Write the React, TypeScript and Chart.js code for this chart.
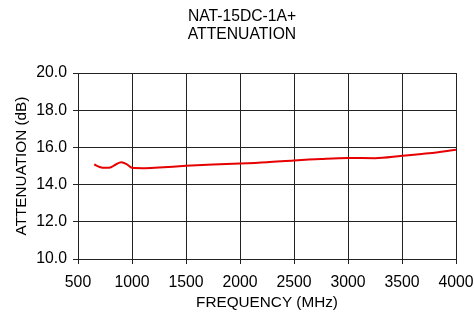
import React, { useEffect, useRef } from "react";
import { Chart, registerables } from "chart.js";

Chart.register(...registerables);

const titleLines = ["NAT-15DC-1A+", "ATTENUATION"];
const xTitle = "FREQUENCY (MHz)";
const yTitle = "ATTENUATION (dB)";
const frequencies = [650, 700, 750, 800, 850, 900, 950, 1000, 1100, 1250, 1500, 1750, 2000, 2250, 2500, 2750, 3000, 3250, 3500, 3750, 4000];
const attenuation = [15.08, 14.95, 14.9, 14.92, 15.08, 15.2, 15.1, 14.9, 14.88, 14.92, 15.01, 15.08, 15.13, 15.2, 15.3, 15.38, 15.43, 15.42, 15.55, 15.68, 15.88];
const xMin = 500;
const xMax = 4000;
const xStep = 500;
const yMin = 10;
const yMax = 20;
const yStep = 2;

const FONT = "'Liberation Sans', Arial, sans-serif";

const titlePlugin = {
  id: "offsetTitle",
  afterDraw(chart: any) {
    const ctx = chart.ctx;
    ctx.save();
    ctx.fillStyle = "#000";
    ctx.font = `15.7px ${FONT}`;
    ctx.textAlign = "center";
    ctx.textBaseline = "middle";
    titleLines.forEach((t, i) => ctx.fillText(t, 242, 17 + i * 17.6));
    ctx.restore();
  },
};

export default function App() {
  const ref = useRef<HTMLCanvasElement | null>(null);
  useEffect(() => {
    if (!ref.current) return;
    const chart = new Chart(ref.current, {
      type: "line",
      data: {
        datasets: [
          {
            data: frequencies.map((f, i) => ({ x: f, y: attenuation[i] })),
            borderColor: "rgb(230,0,0)",
            borderWidth: 2,
            pointRadius: 0,
            tension: 0.4,
            cubicInterpolationMode: "monotone",
            fill: false,
          },
        ],
      },
      plugins: [titlePlugin],
      options: {
        animation: false,
        responsive: true,
        maintainAspectRatio: false,
        layout: { padding: { left: 0, right: 0, top: 73, bottom: 0 } },
        plugins: {
          legend: { display: false },
          tooltip: { enabled: false },
          title: { display: false },
        },
        scales: {
          x: {
            type: "linear",
            min: xMin,
            max: xMax,
            afterFit: (s: any) => {
              s.height = 55;
              s.paddingRight = 18;
              s.paddingLeft = 0;
            },
            ticks: {
              stepSize: xStep,
              color: "#000",
              font: { family: FONT, size: 15.8 },
              padding: 9,
              maxRotation: 0,
              callback: (v: any) => String(v),
            },
            grid: { color: "#222", lineWidth: 1, tickLength: 5, drawTicks: true },
            border: { color: "#222", width: 1 },
            title: {
              display: true,
              text: xTitle,
              color: "#000",
              font: { family: FONT, size: 15.3 },
              padding: { top: 0, bottom: 2 },
            },
          },
          y: {
            min: yMin,
            max: yMax,
            afterFit: (s: any) => {
              s.width = 78;
            },
            ticks: {
              stepSize: yStep,
              color: "#000",
              font: { family: FONT, size: 15.8 },
              padding: 6,
              callback: (v: any) => Number(v).toFixed(1),
            },
            grid: { color: "#222", lineWidth: 1, tickLength: 5 },
            border: { color: "#222", width: 1 },
            title: {
              display: true,
              text: yTitle,
              color: "#000",
              font: { family: FONT, size: 15.3 },
              padding: { top: 13, bottom: 0 },
            },
          },
        },
      },
    });
    return () => chart.destroy();
  }, []);
  return (
    <div style={{ position: "fixed", left: 0, top: 0, width: 474, height: 314, background: "#fff" }}>
      <canvas ref={ref} />
    </div>
  );
}
